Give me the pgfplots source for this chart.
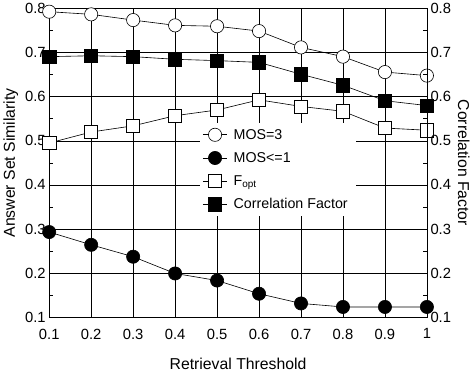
\documentclass[border=0pt]{standalone}
\usepackage{fontspec}
\setmainfont{Liberation Sans}
\usepackage{pgfplots}
\pgfplotsset{compat=1.18}
\pgfplotstableread{
x mos3 mos1 fopt corr
0.1 0.793 0.293 0.495 0.691
0.2 0.787 0.264 0.520 0.693
0.3 0.774 0.237 0.534 0.691
0.4 0.762 0.199 0.557 0.685
0.5 0.760 0.183 0.570 0.682
0.6 0.749 0.153 0.593 0.678
0.7 0.712 0.131 0.578 0.651
0.8 0.691 0.123 0.567 0.626
0.9 0.656 0.123 0.529 0.591
1.0 0.648 0.123 0.524 0.580
}\data
\begin{document}
\begin{tikzpicture}
\pgfplotsset{
  common/.style={
    scale only axis, width=371pt, height=303pt,
    xmin=0.1, xmax=1, ymin=0.1, ymax=0.8,
    ytick={0.1,0.2,0.3,0.4,0.5,0.6,0.7,0.8},
    yticklabels={0.1,0.2,0.3,0.4,0.5,0.6,0.7,0.8},
    minor y tick num=1,
    /pgf/number format/assume math mode=true,
    tick label style={font=\fontsize{14.5}{16}\selectfont},
    label style={font=\fontsize{15.5}{18}\selectfont},
    axis line style={line width=0.8pt},
    tick style={black, line width=0.6pt},
    major tick length=5pt, minor tick length=4pt,
  }
}
\begin{axis}[common,
  xtick={0.1,0.2,0.3,0.4,0.5,0.6,0.7,0.8,0.9,1},
  xticklabels={0.1,0.2,0.3,0.4,0.5,0.6,0.7,0.8,0.9,1},
  xticklabel style={yshift=-8pt},
  ytick pos=left, xtick pos=bottom,
  grid=major, major grid style={black, line width=0.6pt},
  xlabel={Retrieval Threshold}, ylabel={Answer Set Similarity},
  xlabel style={yshift=-12pt},
  legend style={at={(0.40,0.63)}, anchor=north west, draw=none, fill=white,
    font=\fontsize{14}{16}\selectfont, row sep=7.5pt, inner xsep=2pt, inner ysep=4pt,
    nodes={inner xsep=6pt}},
  legend cell align=left,
  legend image code/.code={
    \draw[mark repeat=2,mark phase=2,#1] plot coordinates {(0pt,0pt) (12pt,0pt) (24pt,0pt)};},
  every axis plot/.append style={black, line width=0.6pt, mark size=6.5pt},
]
\addplot[mark=*, mark options={fill=white}] table[x=x,y=mos3] {\data};
\addlegendentry{MOS=3}
\addplot[mark=*, mark options={fill=black}] table[x=x,y=mos1] {\data};
\addlegendentry{MOS<=1}
\addplot[mark=square*, mark options={fill=white}] table[x=x,y=fopt] {\data};
\addlegendentry{F\textsubscript{opt}}
\addplot[mark=square*, mark options={fill=black}] table[x=x,y=corr] {\data};
\addlegendentry{Correlation Factor}
\end{axis}
\begin{axis}[common,
  axis y line*=right, axis x line=none,
  ylabel={Correlation Factor},
  ylabel style={rotate=180},
]
\end{axis}
\end{tikzpicture}
\end{document}
